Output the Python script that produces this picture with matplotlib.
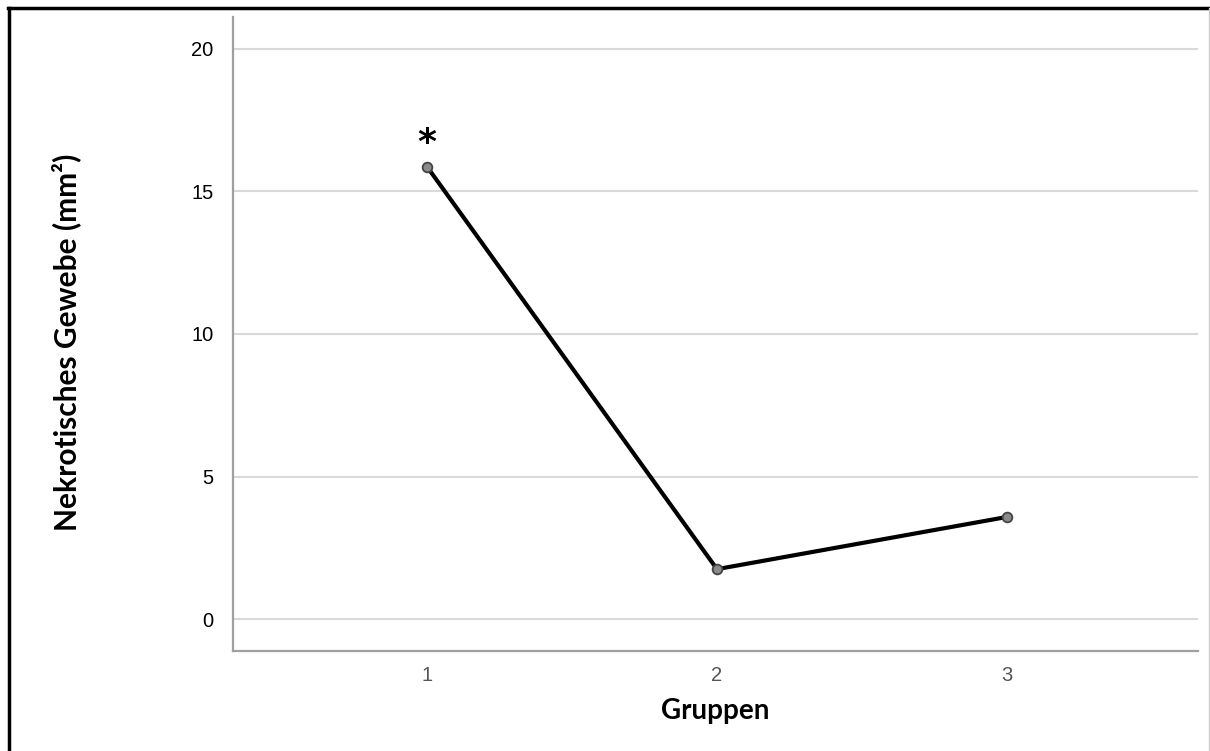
import matplotlib.pyplot as plt
from matplotlib.lines import Line2D

# data
gruppen = [1, 2, 3]
nekrose = [15.86, 1.75, 3.58]
y_ticks = [0, 5, 10, 15, 20]

fig = plt.figure(figsize=(12.1, 7.51), dpi=100)
ax = fig.add_axes([0.1926, 0.1332, 0.7975, 0.8442])

ax.plot(gruppen, nekrose, color='black', linewidth=3, zorder=3)
ax.plot(gruppen, nekrose, linestyle='none', marker='o', markersize=7,
        markerfacecolor='#8a8a8a', markeredgecolor='#444444', markeredgewidth=1.3, zorder=4)

# Signifikanz-Stern über Gruppe 1
ax.annotate('*', (gruppen[0], nekrose[0]), xytext=(0, 5), textcoords='offset points',
            ha='center', va='bottom', fontsize=26, fontweight='bold', fontfamily='DejaVu Sans')

ax.set_xlim(0.33, 3.66)
ax.set_ylim(-1.12, 21.12)
ax.set_xticks(gruppen)
ax.set_yticks(y_ticks)
ax.grid(axis='y', color='#d9d9d9', linewidth=1.5)
ax.set_axisbelow(True)

for s in ['top', 'right']:
    ax.spines[s].set_visible(False)
for s in ['left', 'bottom']:
    ax.spines[s].set_color('#a0a0a0')
    ax.spines[s].set_linewidth(1.6)

ax.tick_params(axis='both', length=0)
ax.tick_params(axis='y', pad=14, labelsize=14.5, labelcolor='black')
ax.tick_params(axis='x', pad=11, labelsize=14.5, labelcolor='#555555')
for lab in ax.get_xticklabels() + ax.get_yticklabels():
    lab.set_fontfamily('Liberation Sans')

ax.set_xlabel('Gruppen', fontsize=20, fontweight='bold', fontfamily='Lato', labelpad=9)
ax.set_ylabel('Nekrotisches Gewebe (mm²)', fontsize=21.5, fontweight='bold',
              fontfamily='Lato', labelpad=0)
ax.yaxis.set_label_coords(-0.157, 0.487)

# Rahmen um die Abbildung
W, H = 1210, 751
fig.add_artist(Line2D([8 / W, 1], [1 - 8 / H, 1 - 8 / H], color='black', linewidth=2.5))
fig.add_artist(Line2D([9 / W, 9 / W], [0, 1 - 8 / H], color='black', linewidth=2.5))
fig.add_artist(Line2D([1208.5 / W, 1208.5 / W], [0, 1 - 8 / H], color='#cccccc', linewidth=1))

fig.savefig('out.png', dpi=100)
